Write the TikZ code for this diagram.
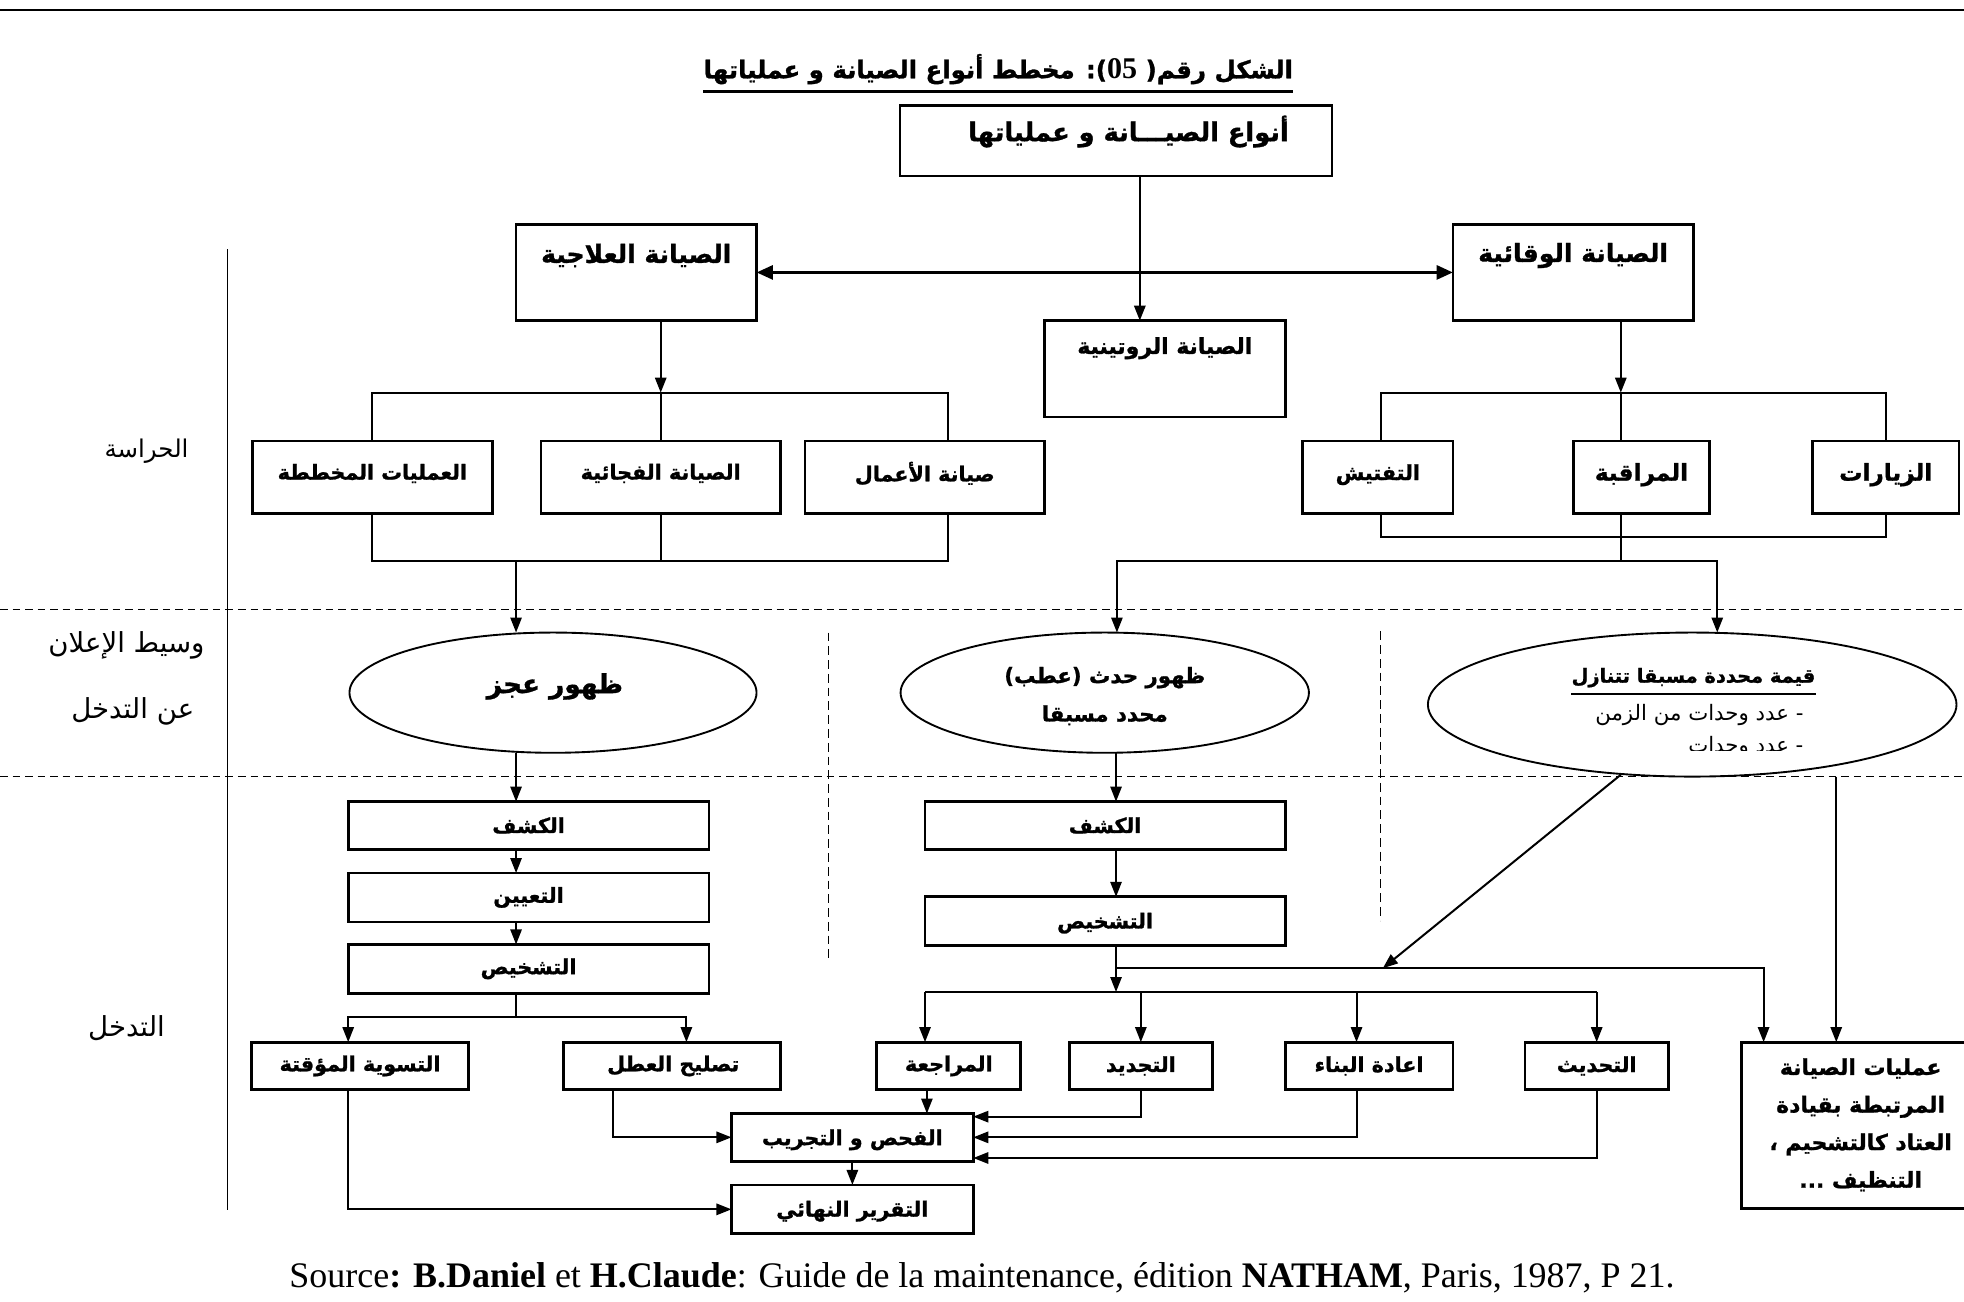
\documentclass[tikz,border=0pt]{standalone}
\usepackage{fontspec}
\setmainfont{Liberation Serif}
\newfontfamily\arabicfont[Script=Arabic, BoldFeatures={FakeBold=1.2}]{DejaVu Sans}
\newfontfamily\serifnum{Liberation Serif}
\TeXXeTstate=1
\usetikzlibrary{arrows.meta,shapes.geometric}
% right-to-left run
\newcommand{\rtl}[1]{\beginR #1\endR}
% Arabic face at a given size (pt)
\newcommand{\fa}[1]{\fontsize{#1}{#1}\selectfont\arabicfont}

\tikzset{
  frame/.style={draw, line width=2.2pt, inner sep=0pt, outer sep=0pt},
  oval/.style={draw, ellipse, line width=1.5pt, inner sep=0pt, outer sep=0pt},
  link/.style={line width=1.6pt},
  flow/.style={link, -{Triangle[length=12pt,width=9pt]}},
  dflow/.style={line width=2.6pt, {Triangle[length=13pt,width=11pt]}-{Triangle[length=13pt,width=11pt]}},
  hguide/.style={line width=1.1pt, dash pattern=on 6pt off 4pt},
  vguide/.style={line width=1.1pt, dash pattern=on 7pt off 4pt},
  head/.style={font=\fa{20}\bfseries, inner sep=0pt},
  lbl/.style={font=\fa{16.5}\bfseries, inner sep=0pt},
  small/.style={font=\fa{16.5}\bfseries, inner sep=0pt},
  plain/.style={font=\fa{17}, inner sep=0pt},
  side/.style={font=\fa{22}, inner sep=0pt},
}

\begin{document}
\begin{tikzpicture}[x=1pt,y=-1pt]
\useasboundingbox (0,0) rectangle (1568,1039);

% page rule and title
\draw[line width=2pt] (0,8) -- (1568,8);
\node[font=\fa{19.5}\bfseries, inner sep=0pt, anchor=base] (title) at (797,62.5)
  {\rtl{الشكل رقم( \beginL{\serifnum\bfseries\fontsize{24}{24}\selectfont 05}\endL): مخطط أنواع الصيانة و عملياتها}};
\coordinate (ulT) at (0,73);
\draw[line width=2pt] (title.west |- ulT) -- (title.east |- ulT);

% lane separators
\draw[line width=1.3pt] (181.5,199) -- (181.5,966);
\draw[hguide] (0,486.5) -- (1568,486.5);
\draw[hguide] (0,620) -- (1568,620);
\draw[vguide] (661.5,505) -- (661.5,768);
\draw[vguide] (1102,504) -- (1102,735);

% lane names
\node[inner sep=0pt, font=\fa{19.5}] (laneA) at (117,360) {\rtl{الحراسة}};
\node[side] (laneB) at (101,515) {\rtl{وسيط الإعلان}};
\node[side] (laneC) at (106,568) {\rtl{عن التدخل}};
\node[side] (laneD) at (101,821) {\rtl{التدخل}};

% ---- boxes of the upper part
\node[frame, minimum width=345, minimum height=56] (top) at (891,112.5) {};
\node[font=\fa{20.5}\bfseries, inner sep=0pt] (topT) at (901,105) {\rtl{أنواع الصيـــانة و عملياتها}};
\node[frame, minimum width=192, minimum height=77] (curative) at (508,217.5) {};
\node[head] (curativeT) at (508,204) {\rtl{الصيانة العلاجية}};
\node[frame, minimum width=192, minimum height=77] (preventive) at (1256,217.5) {};
\node[head] (preventiveT) at (1256,204) {\rtl{الصيانة الوقائية}};
\node[frame, minimum width=192, minimum height=77] (routine) at (930,294.5) {};
\node[lbl, font=\fa{17.5}\bfseries] (routineT) at (930,278) {\rtl{الصيانة الروتينية}};

\node[frame, minimum width=191.4, minimum height=58] (planned) at (297.3,381) {};
\node[lbl] (plannedT) at (297.3,378) {\rtl{العمليات المخططة}};
\node[frame, minimum width=191, minimum height=58] (sudden) at (527.5,381) {};
\node[lbl] (suddenT) at (527.5,378) {\rtl{الصيانة الفجائية}};
\node[frame, minimum width=191.4, minimum height=58] (works) at (738.3,381) {};
\node[lbl] (worksT) at (738.3,378) {\rtl{صيانة الأعمال}};

\node[frame, minimum width=120, minimum height=58] (inspect) at (1100,381) {};
\node[lbl] (inspectT) at (1100,379) {\rtl{التفتيش}};
\node[frame, minimum width=109, minimum height=58] (monitor) at (1310.5,381) {};
\node[head, font=\fa{18.5}\bfseries] (monitorT) at (1310.5,379) {\rtl{المراقبة}};
\node[frame, minimum width=117, minimum height=58] (visits) at (1505.5,381) {};
\node[head, font=\fa{18.5}\bfseries] (visitsT) at (1505.5,379) {\rtl{الزيارات}};

% ---- events
\node[oval, minimum width=325, minimum height=96] (e1) at (441.5,553) {};
\node[font=\fa{21}\bfseries, inner sep=0pt] (e1T) at (443,548) {\rtl{ظهور عجز}};
\node[oval, minimum width=326, minimum height=96] (e2) at (882,553) {};
\node[font=\fa{17}\bfseries, inner sep=0pt] (e2T) at (882,541) {\rtl{ظهور حدث (عطب)}};
\node[font=\fa{17}\bfseries, inner sep=0pt] (e2U) at (882,571) {\rtl{محدد مسبقا}};
\node[oval, minimum width=422, minimum height=115] (e3) at (1351,562.5) {};
\node[font=\fa{15.5}\bfseries, inner sep=0pt] (e3T) at (1352,541) {\rtl{قيمة محددة مسبقا تتنازل}};
\coordinate (ulE) at (0,554);
\draw[line width=2pt] (e3T.west |- ulE) -- (e3T.east |- ulE);
\node[plain, anchor=east] (e3U) at (1440,571) {\rtl{- عدد وحدات من الزمن}};
\begin{scope}
  \clip (1250,580) rectangle (1460,599);
  \node[plain, anchor=east] (e3V) at (1440,596) {\rtl{- عدد وحدات}};
\end{scope}

% ---- intervention, left column
\node[frame, minimum width=288, minimum height=38] (k1) at (422,659) {};
\node[small] (k1T) at (422,659) {\rtl{الكشف}};
\node[frame, minimum width=288, minimum height=39] (t1) at (422,716.5) {};
\node[small] (t1T) at (422,716.5) {\rtl{التعيين}};
\node[frame, minimum width=288, minimum height=39] (d1) at (422,773.5) {};
\node[small] (d1T) at (422,773.5) {\rtl{التشخيص}};
\node[frame, minimum width=173, minimum height=38] (temp) at (287.5,851) {};
\node[small] (tempT) at (287.5,851) {\rtl{التسوية المؤقتة}};
\node[frame, minimum width=173, minimum height=38] (repair) at (536.5,851) {};
\node[small] (repairT) at (537.5,851) {\rtl{تصليح العطل}};
\node[frame, minimum width=193, minimum height=38] (test) at (680.5,908) {};
\node[small] (testT) at (680.5,910) {\rtl{الفحص و التجريب}};
\node[frame, minimum width=193, minimum height=39] (report) at (680.5,965.5) {};
\node[small] (reportT) at (680.5,967) {\rtl{التقرير النهائي}};

% ---- intervention, middle column
\node[frame, minimum width=287.5, minimum height=38] (k2) at (882.25,659) {};
\node[small] (k2T) at (882.25,659) {\rtl{الكشف}};
\node[frame, minimum width=287.5, minimum height=39] (d2) at (882.25,735.5) {};
\node[small] (d2T) at (882.25,737) {\rtl{التشخيص}};
\node[frame, minimum width=115, minimum height=38] (review) at (757.5,851) {};
\node[small] (reviewT) at (757.5,851) {\rtl{المراجعة}};
\node[frame, minimum width=114.4, minimum height=38] (renew) at (910.8,851) {};
\node[small] (renewT) at (910.8,851) {\rtl{التجديد}};
\node[frame, minimum width=134, minimum height=38] (rebuild) at (1093,851) {};
\node[small] (rebuildT) at (1093,851) {\rtl{اعادة البناء}};
\node[frame, minimum width=114.5, minimum height=38] (update) at (1274.75,851) {};
\node[small] (updateT) at (1274.75,851) {\rtl{التحديث}};
\node[frame, minimum width=186, minimum height=133] (ops) at (1483.5,898.5) {};
\node[font=\fa{17.5}\bfseries\fontsize{17.5}{30}\selectfont, inner sep=0pt, align=center] (opsT) at (1485.5,898)
  {\rtl{عمليات الصيانة}\\\rtl{المرتبطة بقيادة}\\\rtl{العتاد كالتشحيم ،}\\\rtl{التنظيف ...}};

% ---- connectors, upper part
\coordinate (cC) at (910,0);
\draw[link, line width=1.8pt, -{Triangle[length=12pt,width=9pt]}] (top.south -| cC) -- (routine.north -| cC);
\draw[dflow] (curative.east) -- (preventive.west);

\coordinate (bL) at (527.5,313.5);
\coordinate (wkT) at (757,352);
\coordinate (wkB) at (757,410);
\coordinate (jL) at (412,448);
\draw[flow] (curative.south -| bL) -- (bL);
\draw[link] (planned.north) |- (wkT |- bL) -- (wkT);
\draw[link] (sudden.north) -- (bL);
\draw[link] (planned.south) |- (wkB |- jL) -- (wkB);
\draw[link] (sudden.south) -- (sudden.south |- jL);
\draw[flow] (jL) -- (jL |- e1.north);

\coordinate (bR) at (1294,313.5);
\coordinate (inT) at (1102.5,352);
\coordinate (inB) at (1102.5,410);
\coordinate (jR) at (1294,428.5);
\coordinate (fR) at (1294,448);
\coordinate (f2) at (891.7,448);
\coordinate (f3) at (1371,448);
\draw[flow] (preventive.south -| bR) -- (bR);
\draw[link] (inT) |- (visits.north |- bR) -- (visits.north);
\draw[link] (monitor.north -| bR) -- (bR);
\draw[link] (inB) |- (visits.south |- jR) -- (visits.south);
\draw[link] (monitor.south -| jR) -- (fR);
\draw[flow] (fR) -| (f2 |- e2.north);
\draw[flow] (fR) -| (f3 |- e3.north);

% ---- connectors, left column
\coordinate (cL) at (412,0);
\coordinate (sL) at (412,812);
\coordinate (tA) at (278,0);
\coordinate (rA) at (548,0);
\coordinate (rB) at (489,0);
\draw[flow] (cL |- e1.south) -- (cL |- k1.north);
\draw[flow] (cL |- k1.south) -- (cL |- t1.north);
\draw[flow] (cL |- t1.south) -- (cL |- d1.north);
\draw[link] (cL |- d1.south) -- (sL);
\draw[flow] (sL) -| (tA |- temp.north);
\draw[flow] (sL) -| (rA |- repair.north);
\draw[flow] (tA |- temp.south) |- (report.west);
\draw[flow] (rB |- repair.south) |- (test.west);
\draw[flow] (test.south) -- (report.north);

% ---- connectors, middle and right
\coordinate (cM) at (891,0);
\coordinate (hM) at (891,773);
\coordinate (hR) at (1408,773);
\coordinate (hD) at (1104,773);
\coordinate (sM) at (891,792);
\coordinate (rvA) at (738.5,0);
\coordinate (rvB) at (740,0);
\coordinate (rbA) at (1083,0);
\coordinate (e3a) at (1294,618.5);
\coordinate (e3b) at (1466,620);
\draw[flow] (cM |- e2.south) -- (cM |- k2.north);
\draw[flow] (cM |- k2.south) -- (cM |- d2.north);
\draw[flow] (cM |- d2.south) -- (sM);
\draw[flow] (hM) -| (hR |- ops.north);
\draw[flow] (e3a) -- (hD);
\draw[flow] (e3b) -- (e3b |- ops.north);
\draw[link] (sM -| rvA) -- (sM -| update.north);
\draw[flow] (sM -| rvA) -- (rvA |- review.north);
\draw[flow] (sM -| renew.north) -- (renew.north);
\draw[flow] (sM -| rbA) -- (rbA |- rebuild.north);
\draw[flow] (sM -| update.north) -- (update.north);
\draw[flow] (rvB |- review.south) -- (rvB |- test.north);
\draw[flow] (renew.south) |- ([yshift=-2.5pt]test.north east);
\draw[flow] (rbA |- rebuild.south) |- (test.east);
\draw[flow] (update.south) |- ([yshift=2.5pt]test.south east);

% source line
\node[anchor=base, inner sep=0pt, font=\fontsize{28.7}{32}\selectfont] (source) at (784,1028)
  {Source\textbf{: B.Daniel} et \textbf{H.Claude}: Guide de la maintenance, édition \textbf{NATHAM}, Paris, 1987, P 21.};
\end{tikzpicture}
\end{document}
